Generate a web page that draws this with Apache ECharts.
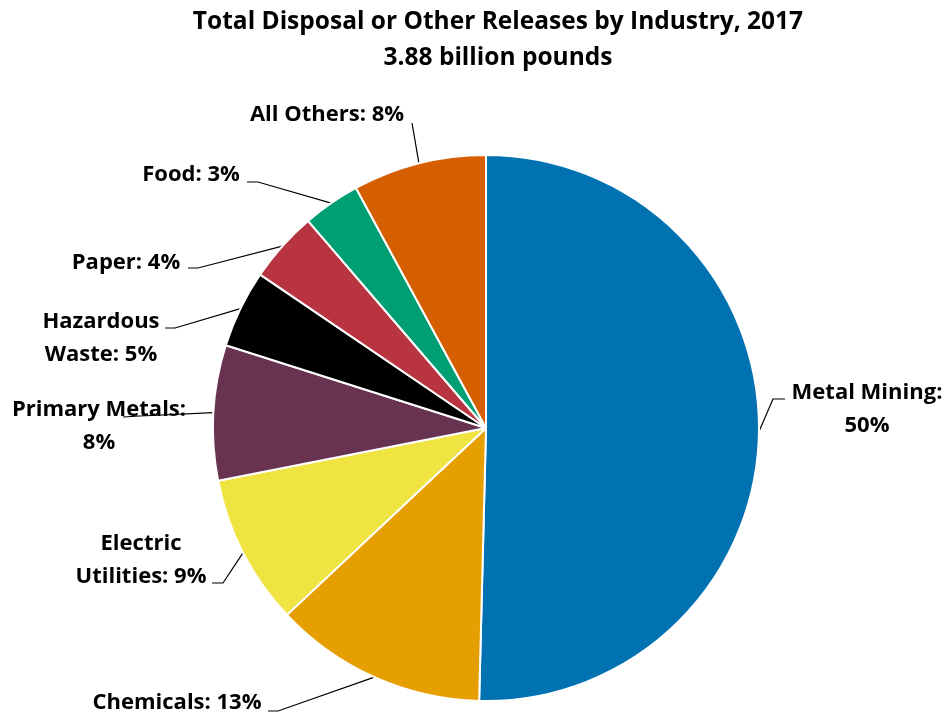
<!DOCTYPE html>
<html>
<head>
<meta charset="utf-8">
<script src="https://cdn.jsdelivr.net/npm/echarts@6/dist/echarts.min.js"></script>
<style>
html,body{margin:0;padding:0;background:#fff;}
#chart{width:950px;height:714px;}
</style>
</head>
<body>
<div id="chart"></div>
<script>
// ---- data ----
const categories = ['Metal Mining', 'Chemicals', 'Electric Utilities', 'Primary Metals',
                    'Hazardous Waste', 'Paper', 'Food', 'All Others'];
const shares = [50.4, 12.6, 8.9, 8.0, 4.6, 4.2, 3.4, 7.9]; // percent of 3.88 billion pounds
const titleLines = ['Total Disposal or Other Releases by Industry, 2017', '3.88 billion pounds'];

// ---- styling / layout (not data) ----
const colors = ['#0072B2', '#E69F00', '#F0E442', '#673350', '#000000', '#B83440', '#009E73', '#D55E00'];
// how each label wraps: 'colon' = break after the colon, 'name' = break inside the name, '' = one line
const wrapStyle = ['colon', '', 'name', 'colon', 'name', '', '', ''];
// label anchor (text centre) and leader line bend/end points
const labelPlace = [
  {x: 867, y: 409, p1: [773, 399], p2: [785, 399]},
  {x: 177, y: 703, p1: [278, 711], p2: [268, 711]},
  {x: 141, y: 560, p1: [223, 583], p2: [212, 583]},
  {x: 99,  y: 426, p1: [140, 416], p2: [123, 417]},
  {x: 101, y: 338, p1: [175, 328], p2: [165, 328]},
  {x: 126, y: 263, p1: [198, 268], p2: [188, 268]},
  {x: 191, y: 175, p1: [258, 182], p2: [247, 182]},
  {x: 327, y: 115, p1: [412, 123], p2: [412, 123]}
];

function labelText(i) {
  const name = categories[i];
  const pct = Math.round(shares[i]) + '%';
  if (wrapStyle[i] === 'colon') return name + ':\n' + pct;
  if (wrapStyle[i] === 'name') {
    const k = name.indexOf(' ');
    return name.slice(0, k) + '\n' + name.slice(k + 1) + ': ' + pct;
  }
  return name + ': ' + pct;
}

const chart = echarts.init(document.getElementById('chart'), null, {renderer: 'canvas'});
const FONT = 'Open Sans';
chart.setOption({
  animation: false,
  backgroundColor: '#fff',
  title: {
    text: titleLines.join('\n'),
    left: 498,
    top: 4,
    textAlign: 'center',
    padding: 0,
    textStyle: {fontFamily: FONT, fontWeight: 'bold', fontSize: 24.5, lineHeight: 36, color: '#000'}
  },
  series: [{
    type: 'pie',
    center: [486, 428],
    radius: 273,
    startAngle: 90,
    clockwise: true,
    avoidLabelOverlap: false,
    data: categories.map((c, i) => ({name: c, value: shares[i], itemStyle: {color: colors[i]}})),
    itemStyle: {borderColor: '#fff', borderWidth: 2},
    label: {
      show: true,
      position: 'outside',
      formatter: p => labelText(p.dataIndex),
      fontFamily: FONT,
      fontWeight: 'bold',
      fontSize: 22,
      lineHeight: 33,
      color: '#000',
      align: 'center'
    },
    labelLine: {show: true, length: 10, length2: 10, lineStyle: {color: '#000', width: 1.2}},
    labelLayout: function (params) {
      const lp = labelPlace[params.dataIndex];
      const p0 = params.labelLinePoints ? params.labelLinePoints[0] : lp.p1;
      return {
        x: lp.x, y: lp.y, align: 'center', verticalAlign: 'middle',
        labelLinePoints: [p0, lp.p1, lp.p2]
      };
    },
    emphasis: {disabled: true}
  }]
});
</script>
</body>
</html>
